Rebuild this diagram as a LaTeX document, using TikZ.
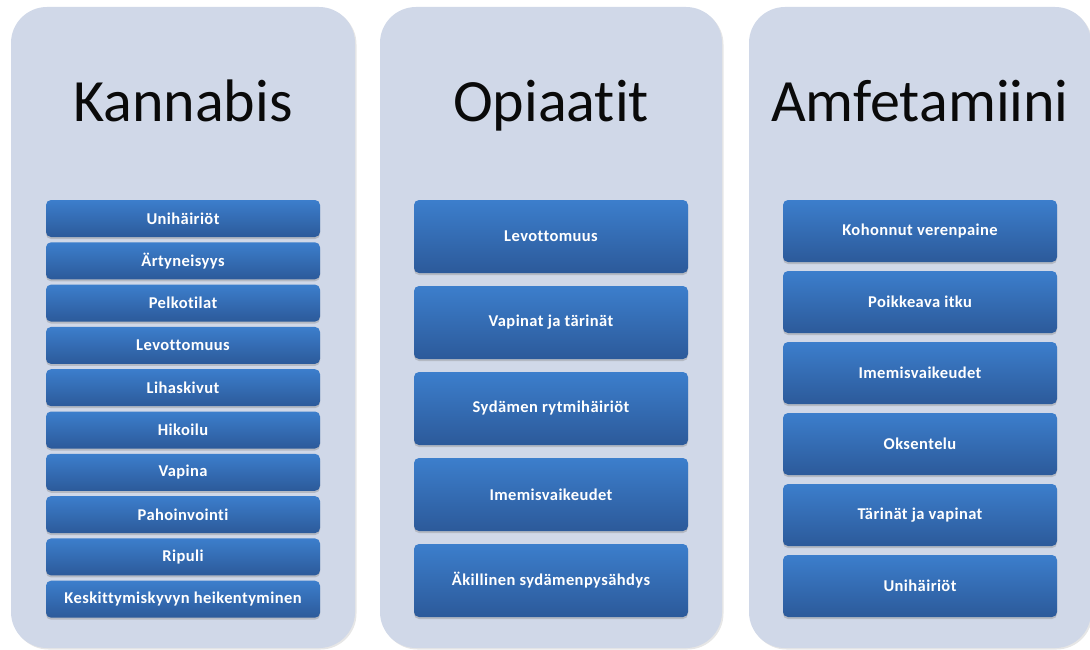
\documentclass[tikz,border=0pt]{standalone}
\usepackage{fontspec}
\setmainfont{Carlito}[Ligatures=NoCommon]
\newfontfamily\boxfont{Carlito}[Ligatures=NoCommon, LetterSpace=2.5]
\usepackage{xcolor}
\usepackage{tikz}
\usetikzlibrary{positioning, shadows}
\definecolor{panelbg}{RGB}{208, 216, 232}
\definecolor{boxtop}{RGB}{60, 126, 204}
\definecolor{boxbot}{RGB}{44, 90, 154}
\definecolor{titleink}{RGB}{10, 10, 10}

\begin{document}
\begin{tikzpicture}[
    x=1pt, y=1pt,
    panel/.style={rectangle, rounded corners=36pt, fill=panelbg, minimum height=641pt, inner sep=0pt,
        drop shadow={opacity=0.2, shadow xshift=1.5pt, shadow yshift=-1.5pt}},
    title/.style={anchor=base, text=titleink, font=\fontsize{60}{66}\selectfont},
    symptom/.style={rectangle, rounded corners=5pt, top color=boxtop, bottom color=boxbot, text=white,
        minimum width=274pt, inner sep=0pt, outer sep=0pt, font=\boxfont\fontsize{16.5}{18}\selectfont\bfseries,
        drop shadow={opacity=0.35, shadow xshift=0pt, shadow yshift=-2pt}},
    small/.style={symptom, minimum height=37pt},
    big/.style={symptom, minimum height=73pt},
    mid/.style={symptom, minimum height=62pt}
]
    \useasboundingbox (0,0) rectangle (1090,-650);
    \clip (0,0) rectangle (1090,-650);

    % Panels
    \node[panel, minimum width=344pt] (kanPanel) at (183,-327.5) {};
    \node[panel, minimum width=342pt] (opiPanel) at (551,-327.5) {};
    \node[panel, minimum width=342pt] (amfPanel) at (920,-327.5) {};

    % Titles
    \node[title] (kanTitle) at (183,-122) {Kannabis};
    \node[title] (opiTitle) at (551,-122) {Opiaatit};
    \node[title] (amfTitle) at (920,-122) {Amfetamiini};

    % Kannabis
    \node[small] (k1) at (183,-218.5) {Unihäiriöt};
    \node[small, below=5.3pt of k1] (k2) {Ärtyneisyys};
    \node[small, below=5.3pt of k2] (k3) {Pelkotilat};
    \node[small, below=5.3pt of k3] (k4) {Levottomuus};
    \node[small, below=5.3pt of k4] (k5) {Lihaskivut};
    \node[small, below=5.3pt of k5] (k6) {Hikoilu};
    \node[small, below=5.3pt of k6] (k7) {Vapina};
    \node[small, below=5.3pt of k7] (k8) {Pahoinvointi};
    \node[small, below=5.3pt of k8] (k9) {Ripuli};
    \node[small, below=5.3pt of k9] (k10) {Keskittymiskyvyn heikentyminen};

    % Opiaatit
    \node[big] (o1) at (551,-236.5) {Levottomuus};
    \node[big, below=13pt of o1] (o2) {Vapinat ja tärinät};
    \node[big, below=13pt of o2] (o3) {Sydämen rytmihäiriöt};
    \node[big, below=13pt of o3] (o4) {Imemisvaikeudet};
    \node[big, below=13pt of o4] (o5) {Äkillinen sydämenpysähdys};

    % Amfetamiini
    \node[mid] (a1) at (920,-231) {Kohonnut verenpaine};
    \node[mid, below=9pt of a1] (a2) {Poikkeava itku};
    \node[mid, below=9pt of a2] (a3) {Imemisvaikeudet};
    \node[mid, below=9pt of a3] (a4) {Oksentelu};
    \node[mid, below=9pt of a4] (a5) {Tärinät ja vapinat};
    \node[mid, below=9pt of a5] (a6) {Unihäiriöt};

\end{tikzpicture}
\end{document}
